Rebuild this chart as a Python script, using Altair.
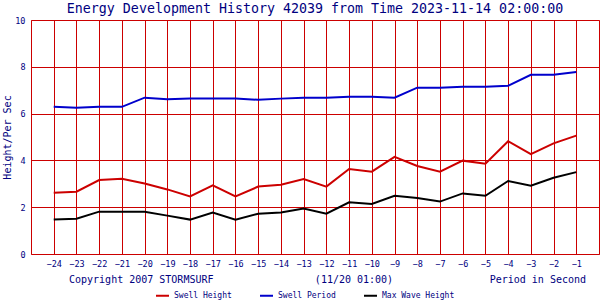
import altair as alt
import pandas as pd

hours = list(range(-24, 0))
swell_height = [2.62, 2.66, 3.16, 3.22, 3.01, 2.76, 2.46, 2.93, 2.46, 2.88, 2.96, 3.20,
                2.88, 3.63, 3.52, 4.15, 3.76, 3.52, 3.99, 3.86, 4.82, 4.27, 4.73, 5.06]
swell_period = [6.29, 6.25, 6.29, 6.29, 6.68, 6.61, 6.64, 6.64, 6.64, 6.59, 6.64, 6.68,
                6.68, 6.72, 6.72, 6.68, 7.11, 7.11, 7.15, 7.15, 7.19, 7.66, 7.66, 7.78]
max_wave = [1.47, 1.51, 1.81, 1.81, 1.81, 1.64, 1.47, 1.77, 1.47, 1.72, 1.77, 1.94,
            1.72, 2.21, 2.14, 2.49, 2.39, 2.24, 2.59, 2.49, 3.12, 2.92, 3.26, 3.50]
series_names = ["Swell Height", "Swell Period", "Max Wave Height"]
series_colors = ["#CC0000", "#0000CC", "#000000"]
y_ticks = [0, 2, 4, 6, 8, 10]

title_text = "Energy Development History 42039 from Time 2023-11-14 02:00:00"
footer_left = "Copyright 2007 STORMSURF"
footer_mid = "(11/20 01:00)"
footer_right = "Period in Second"

FONT = "DejaVu Sans Mono"
NAVY = "#000080"
GRID = "#CC0000"

rows = []
for name, vals in zip(series_names, [swell_height, swell_period, max_wave]):
    for h, v in zip(hours, vals):
        rows.append({"hour": h, "value": v, "series": name})
df = pd.DataFrame(rows)

lines = alt.Chart(df).mark_line(strokeWidth=2).encode(
    x=alt.X("hour:Q", scale=alt.Scale(domain=[-25, 0], nice=False, zero=False),
            axis=alt.Axis(values=hours, title=None, labelPadding=5, labelFontSize=8.5,
                          labelFlush=False, labelOverlap=False)),
    y=alt.Y("value:Q", scale=alt.Scale(domain=[0, 10], nice=False),
            axis=alt.Axis(values=y_ticks, title="Height/Per Sec", labelPadding=6,
                          labelFontSize=8.5, titleFontSize=10, titleFont=FONT,
                          titleColor=NAVY, titleFontWeight="normal",
                          titleX=-24, titleY=117, titleAngle=270,
                          titleAlign="center", titleBaseline="middle",
                          labelFlush=False)),
    color=alt.Color("series:N", sort=series_names,
                    scale=alt.Scale(domain=series_names, range=series_colors),
                    legend=alt.Legend(title=None, orient="none", legendX=124, legendY=268,
                                      direction="horizontal", symbolType="stroke",
                                      symbolStrokeWidth=2, symbolSize=169,
                                      labelFont=FONT, labelFontSize=8, labelColor=NAVY,
                                      labelOffset=4, columnPadding=24, padding=0)),
    detail="series:N",
)

def footer(text, x, align):
    return alt.Chart(pd.DataFrame({"t": [text]})).mark_text(
        align=align, baseline="middle", font=FONT, fontSize=10, color=NAVY
    ).encode(text="t:N", x=alt.value(x), y=alt.value(260))

chart = alt.layer(
    lines,
    footer(footer_left, 38, "left"),
    footer(footer_mid, 323, "center"),
    footer(footer_right, 555, "right"),
).properties(
    width=568,
    height=234,
    title=alt.TitleParams(title_text, font=FONT, fontSize=13.3, fontWeight="normal",
                          color=NAVY, anchor="middle", offset=1),
    autosize=alt.AutoSizeParams(type="none"),
    padding={"left": 31, "top": 20, "right": 1, "bottom": 46},
    background="white",
).configure_view(
    stroke=GRID, strokeWidth=1
).configure_axis(
    grid=True, gridColor=GRID, gridOpacity=1, gridWidth=1,
    domain=False, ticks=False, labelFont=FONT, labelColor=NAVY,
)

chart.save("out.html", embed_options={"renderer": "svg", "actions": False})
